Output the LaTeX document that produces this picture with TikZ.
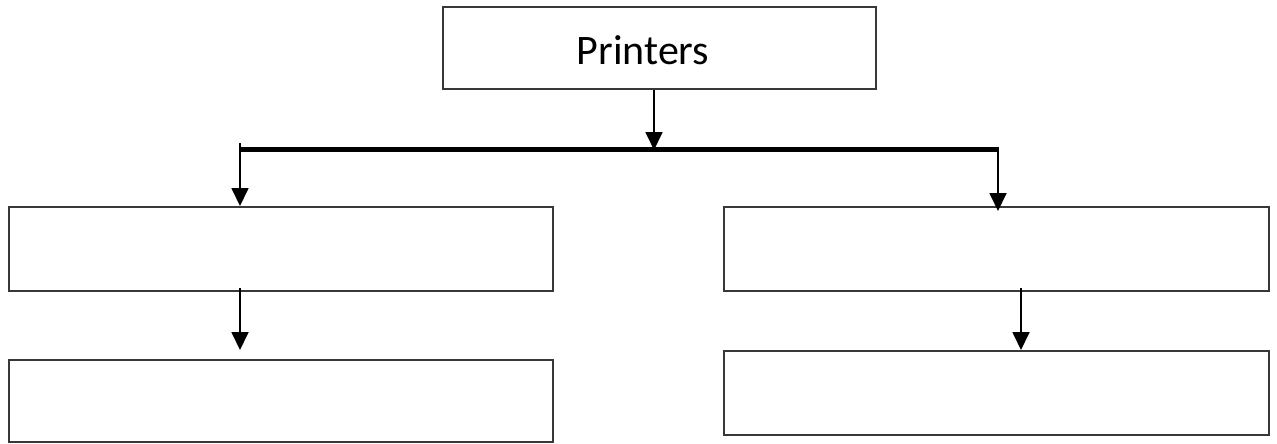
\documentclass[tikz,border=0pt]{standalone}
\usepackage{fontspec}
\setmainfont{Carlito}
\usetikzlibrary{arrows.meta,calc}
\begin{document}
\begin{tikzpicture}[x=1pt,y=-1pt,
  boxst/.style={draw=black!78,line width=2pt,rectangle,inner sep=0pt,fill=white},
  arr/.style={draw=black,line width=1.8pt,-{Triangle[length=18pt,width=17pt]}},
  bus/.style={draw=black,line width=5pt}]
\useasboundingbox (0,0) rectangle (1277,444);
\fill[white] (0,0) rectangle (1277,444);
% boxes
\node[boxst,minimum width=433pt,minimum height=82pt] (top) at (659.5,48) {};
\node[font=\fontsize{42pt}{48pt}\selectfont] (lbl) at (643,50) {Printers};
\node[boxst,minimum width=544pt,minimum height=84pt] (l1) at (281,249) {};
\node[boxst,minimum width=544pt,minimum height=82pt] (l2) at (281,401) {};
\node[boxst,minimum width=545pt,minimum height=84pt] (r1) at (996.5,249) {};
\node[boxst,minimum width=545pt,minimum height=84pt] (r2) at (996.5,393) {};
% bus
\coordinate (busL) at (240,149);
\coordinate (busR) at (998,149);
\coordinate (busM) at (654,150);
\draw[bus] (busL) -- (busR);
% connectors
\draw[arr] ([xshift=-5.5pt]top.south) -- (busM);
\draw[arr] ($(busL)+(0,-6)$) -- (l1.north -| busL);
\draw[arr] ($(busR)+(0,-2)$) -- ($(r1.north -| busR)+(0,5)$);
\coordinate (ld) at (240,350);
\draw[arr] ($(l1.south -| ld)+(0,-4)$) -- (ld);
\coordinate (rd) at (1021,351);
\draw[arr] ($(r1.south -| rd)+(0,-4)$) -- (r2.north -| rd);
\end{tikzpicture}
\end{document}
